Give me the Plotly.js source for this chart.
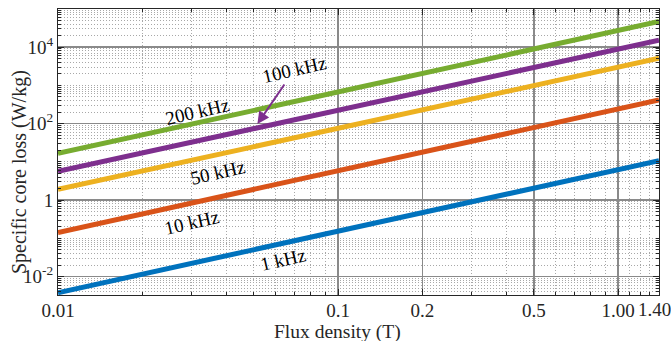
<!DOCTYPE html>
<html>
<head>
<meta charset="utf-8">
<script src="https://cdn.plot.ly/plotly-3.0.1.min.js"></script>
<style>html,body{margin:0;padding:0;background:#fff;}#chart{width:671px;height:341px;}</style>
</head>
<body>
<div id="chart"></div>
<script>
// Flux density (T)
const fluxDensity = [0.01, 0.1, 1.4];
// Specific core loss (W/kg) per frequency
const loss1kHz   = [0.0038, 0.155, 10.8];
const loss10kHz  = [0.143, 5.87, 417];
const loss50kHz  = [1.91, 75.7, 5150];
const loss100kHz = [5.65, 224, 15300];
const loss200kHz = [16.7, 679, 47200];

const seriesNames  = ['1 kHz', '10 kHz', '50 kHz', '100 kHz', '200 kHz'];
const seriesValues = [loss1kHz, loss10kHz, loss50kHz, loss100kHz, loss200kHz];
const seriesColors = ['#0072BD', '#D95319', '#EDB120', '#7E2F8E', '#77AC30'];

const xTickVals = [0.01, 0.1, 0.2, 0.5, 1.0, 1.4];
const xTickText = ['0.01', '0.1', '0.2', '0.5', '1.00', '1.40'];
const yTickVals = [0.01, 1, 100, 10000];
const yTickText = ['10<sup>-2</sup>', '1', '10<sup>2</sup>', '10<sup>4</sup>'];

const xTitle = 'Flux density (T)';
const yTitle = 'Specific core loss (W/kg)';

const xMinor = [0.02,0.03,0.04,0.05,0.06,0.07,0.08,0.09,0.3,0.4,0.6,0.7,0.8,0.9,1.1,1.2,1.3];
const yMinor = [];
for (let d = -3; d <= 4; d++) {
  for (let k = 1; k <= 9; k++) {
    const v = k * Math.pow(10, d);
    if (yTickVals.some(t => Math.abs(t - v) / v < 1e-9)) continue;
    yMinor.push(v);
  }
}

const font = 'Liberation Serif, Times New Roman, serif';
const txt = '#262626';
const fs = 19;

const traces = seriesNames.map((n, i) => ({
  x: fluxDensity, y: seriesValues[i], name: n, type: 'scatter', mode: 'lines',
  line: {color: seriesColors[i], width: 5}
}));

// last tick label sits at the right edge of the figure: drawn as an annotation shifted left
const lastIdx = xTickVals.length - 1;
const xTickTextAxis = xTickText.map((t, i) => i === lastIdx ? '' : t);

const annFont = {family: font, size: 19, color: '#000'};
const annotations = [
  {x: -1.502, y: 2.309, text: '200 kHz', showarrow: false, textangle: -13, font: annFont},
  {x: -1.288, y: 1.995, text: '100 kHz', showarrow: true, ax: 37, ay: -54, textangle: -13,
   arrowcolor: '#7E2F8E', arrowwidth: 2, arrowhead: 2, arrowsize: 1.2, font: annFont},
  {x: -1.431, y: 0.737, text: '50 kHz', showarrow: false, textangle: -13, font: annFont},
  {x: -1.524, y: -0.572, text: '10 kHz', showarrow: false, textangle: -13, font: annFont},
  {x: -1.195, y: -1.542, text: '1 kHz', showarrow: false, textangle: -13, font: annFont},
  {xref: 'x', yref: 'paper', x: Math.log10(xTickVals[lastIdx]), y: 0, xshift: -5, yshift: -2,
   xanchor: 'center', yanchor: 'top', text: xTickText[lastIdx], showarrow: false,
   font: {family: font, size: fs, color: txt}},
  // axis titles
  {xref: 'paper', yref: 'paper', x: 0.465, y: 0, yshift: -37, xanchor: 'center', yanchor: 'middle',
   text: xTitle, showarrow: false, font: {family: font, size: 19.5, color: txt}},
  {xref: 'paper', yref: 'paper', x: 0, y: 0.43, xshift: -39, xanchor: 'center', yanchor: 'middle',
   text: yTitle, textangle: -90, showarrow: false, font: {family: font, size: 20, color: txt}}
];

const axisCommon = {
  type: 'log', tickmode: 'array',
  ticks: 'inside', ticklen: 6, tickcolor: txt, tickwidth: 1,
  showline: true, linecolor: txt, linewidth: 1, mirror: 'ticks',
  showgrid: true, gridcolor: '#8a8a8a', gridwidth: 1.5,
  zeroline: false,
  tickfont: {family: font, size: fs, color: txt}
};

const layout = {
  width: 671, height: 341,
  margin: {l: 57.5, r: 12, t: 9, b: 46},
  paper_bgcolor: '#fff', plot_bgcolor: '#fff',
  showlegend: false,
  font: {family: font, size: fs, color: txt},
  xaxis: Object.assign({}, axisCommon, {
    range: [-2.000001, Math.log10(1.4) + 0.000001],
    tickvals: xTickVals, ticktext: xTickTextAxis,
    ticklabelstandoff: -2,
    minor: {tickmode: 'array', tickvals: xMinor, ticks: 'inside', ticklen: 3, tickcolor: txt,
            showgrid: true, gridcolor: '#a8a8a8', griddash: '1px,2px', gridwidth: 1}
  }),
  yaxis: Object.assign({}, axisCommon, {
    range: [-2.48, 5],
    tickvals: yTickVals, ticktext: yTickText,
    minor: {tickmode: 'array', tickvals: yMinor, ticks: 'inside', ticklen: 3, tickcolor: txt,
            showgrid: true, gridcolor: '#a8a8a8', griddash: '1px,2px', gridwidth: 1}
  }),
  annotations: annotations
};

Plotly.newPlot('chart', traces, layout, {displayModeBar: false, staticPlot: true});
</script>
</body>
</html>
